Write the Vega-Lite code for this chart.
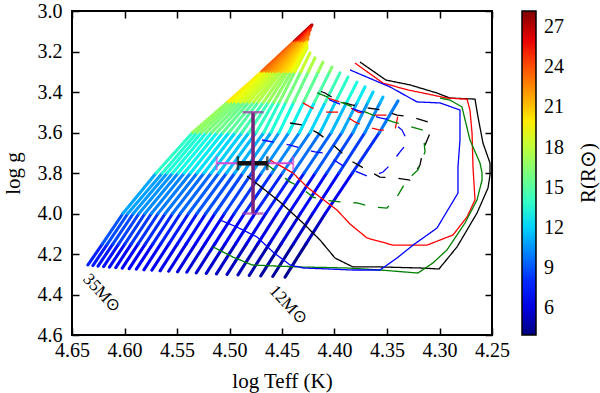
{
"$schema": "https://vega.github.io/schema/vega-lite/v6.json",
"width": 420, "height": 324,
"autosize": {"type": "none"},
"padding": {"left": 72, "top": 11, "right": 108, "bottom": 58},
"config": {
 "font": "Liberation Serif",
 "view": {"stroke": "black", "strokeWidth": 2},
 "axis": {"grid": false, "domain": false, "tickColor": "black", "tickWidth": 1.5, "tickSize": -7, "labelFont": "Liberation Serif", "labelFontSize": 20, "labelColor": "black", "labelOverlap": false, "labelFlush": false, "titleFont": "Liberation Serif", "titleFontSize": 21, "titleFontWeight": "normal", "titleColor": "black"}
},
"datasets": {
"tracks": [
{"t":0,"x":4.6348,"y":4.254,"r":7.76},{"t":0,"x":4.6210,"y":4.15,"r":8.99},{"t":0,"x":4.6015,"y":4.00,"r":10.99},{"t":0,"x":4.5698,"y":3.80,"r":13.84},{"t":0,"x":4.5351,"y":3.60,"r":16.93},{"t":0,"x":4.5018,"y":3.45,"r":20.12},{"t":0,"x":4.4691,"y":3.30,"r":23.90},{"t":0,"x":4.4382,"y":3.15,"r":27.31},{"t":0,"x":4.4214,"y":3.069},
{"t":1,"x":4.6301,"y":4.257,"r":7.64},{"t":1,"x":4.6162,"y":4.15,"r":8.86},{"t":1,"x":4.5968,"y":4.00,"r":10.83},{"t":1,"x":4.5639,"y":3.80,"r":13.64},{"t":1,"x":4.5310,"y":3.60,"r":16.69},{"t":1,"x":4.5000,"y":3.45,"r":19.83},{"t":1,"x":4.4691,"y":3.30,"r":23.56},{"t":1,"x":4.4381,"y":3.15,"r":26.84},{"t":1,"x":4.4224,"y":3.074},
{"t":2,"x":4.6252,"y":4.260,"r":7.52},{"t":2,"x":4.6110,"y":4.15,"r":8.73},{"t":2,"x":4.5916,"y":4.00,"r":10.67},{"t":2,"x":4.5592,"y":3.80,"r":13.44},{"t":2,"x":4.5267,"y":3.60,"r":16.44},{"t":2,"x":4.4966,"y":3.45,"r":19.54},{"t":2,"x":4.4666,"y":3.30,"r":23.21},{"t":2,"x":4.4366,"y":3.15,"r":26.36},{"t":2,"x":4.4224,"y":3.079},
{"t":3,"x":4.6199,"y":4.262,"r":7.39},{"t":3,"x":4.6055,"y":4.15,"r":8.59},{"t":3,"x":4.5862,"y":4.00,"r":10.51},{"t":3,"x":4.5541,"y":3.80,"r":13.23},{"t":3,"x":4.5220,"y":3.60,"r":16.19},{"t":3,"x":4.4933,"y":3.45,"r":19.24},{"t":3,"x":4.4646,"y":3.30,"r":22.85},{"t":3,"x":4.4360,"y":3.15,"r":25.88},{"t":3,"x":4.4233,"y":3.084},
{"t":4,"x":4.6143,"y":4.265,"r":7.26},{"t":4,"x":4.5996,"y":4.15,"r":8.46},{"t":4,"x":4.5805,"y":4.00,"r":10.34},{"t":4,"x":4.5488,"y":3.80,"r":13.03},{"t":4,"x":4.5170,"y":3.60,"r":15.93},{"t":4,"x":4.4895,"y":3.45,"r":18.94},{"t":4,"x":4.4620,"y":3.30,"r":22.49},{"t":4,"x":4.4346,"y":3.15,"r":25.41},{"t":4,"x":4.4233,"y":3.089},
{"t":5,"x":4.6083,"y":4.267,"r":7.13},{"t":5,"x":4.5935,"y":4.15,"r":8.32},{"t":5,"x":4.5744,"y":4.00,"r":10.17},{"t":5,"x":4.5431,"y":3.80,"r":12.81},{"t":5,"x":4.5118,"y":3.60,"r":15.67},{"t":5,"x":4.4856,"y":3.45,"r":18.63},{"t":5,"x":4.4594,"y":3.30,"r":22.13},{"t":5,"x":4.4332,"y":3.15,"r":24.93},{"t":5,"x":4.4233,"y":3.094},
{"t":6,"x":4.6021,"y":4.270,"r":7.00},{"t":6,"x":4.5870,"y":4.15,"r":8.18},{"t":6,"x":4.5680,"y":4.00,"r":10.00},{"t":6,"x":4.5371,"y":3.80,"r":12.60},{"t":6,"x":4.5063,"y":3.60,"r":15.41},{"t":6,"x":4.4815,"y":3.45,"r":18.31},{"t":6,"x":4.4567,"y":3.30,"r":21.76},{"t":6,"x":4.4320,"y":3.15,"r":24.36},{"t":6,"x":4.4243,"y":3.104},
{"t":7,"x":4.5955,"y":4.272,"r":6.87},{"t":7,"x":4.5801,"y":4.15,"r":8.04},{"t":7,"x":4.5612,"y":4.00,"r":9.83},{"t":7,"x":4.5308,"y":3.80,"r":12.38},{"t":7,"x":4.5005,"y":3.60,"r":15.14},{"t":7,"x":4.4770,"y":3.45,"r":18.00},{"t":7,"x":4.4535,"y":3.30,"r":21.38},{"t":7,"x":4.4300,"y":3.15,"r":23.81},{"t":7,"x":4.4243,"y":3.114},
{"t":8,"x":4.5887,"y":4.275,"r":6.74},{"t":8,"x":4.5730,"y":4.15,"r":7.89},{"t":8,"x":4.5542,"y":4.00,"r":9.65},{"t":8,"x":4.5243,"y":3.80,"r":12.16},{"t":8,"x":4.4945,"y":3.60,"r":14.87},{"t":8,"x":4.4727,"y":3.45,"r":17.67},{"t":8,"x":4.4509,"y":3.30,"r":20.99},{"t":8,"x":4.4291,"y":3.15,"r":23.25},{"t":8,"x":4.4252,"y":3.124},
{"t":9,"x":4.5815,"y":4.278,"r":6.60},{"t":9,"x":4.5655,"y":4.15,"r":7.75},{"t":9,"x":4.5468,"y":4.00,"r":9.47},{"t":9,"x":4.5174,"y":3.80,"r":11.93},{"t":9,"x":4.4881,"y":3.60,"r":14.59},{"t":9,"x":4.4677,"y":3.45,"r":17.34},{"t":9,"x":4.4473,"y":3.30,"r":20.60},{"t":9,"x":4.4268,"y":3.15,"r":22.62},{"t":9,"x":4.4252,"y":3.138},
{"t":10,"x":4.5739,"y":4.280,"r":6.46},{"t":10,"x":4.5577,"y":4.15,"r":7.60},{"t":10,"x":4.5390,"y":4.00,"r":9.29},{"t":10,"x":4.5102,"y":3.80,"r":11.70},{"t":10,"x":4.4814,"y":3.60,"r":14.31},{"t":10,"x":4.4629,"y":3.45,"r":17.00},{"t":10,"x":4.4444,"y":3.30,"r":20.17},{"t":10,"x":4.4262,"y":3.153},
{"t":11,"x":4.5661,"y":4.283,"r":6.33},{"t":11,"x":4.5496,"y":4.15,"r":7.44},{"t":11,"x":4.5310,"y":4.00,"r":9.10},{"t":11,"x":4.5028,"y":3.80,"r":11.46},{"t":11,"x":4.4746,"y":3.60,"r":14.02},{"t":11,"x":4.4578,"y":3.45,"r":16.66},{"t":11,"x":4.4410,"y":3.30,"r":19.60},{"t":11,"x":4.4262,"y":3.168},
{"t":12,"x":4.5579,"y":4.285,"r":6.18},{"t":12,"x":4.5412,"y":4.15,"r":7.29},{"t":12,"x":4.5226,"y":4.00,"r":8.91},{"t":12,"x":4.4950,"y":3.80,"r":11.22},{"t":12,"x":4.4673,"y":3.60,"r":13.72},{"t":12,"x":4.4525,"y":3.45,"r":16.31},{"t":12,"x":4.4378,"y":3.30,"r":19.02},{"t":12,"x":4.4262,"y":3.183},
{"t":13,"x":4.5495,"y":4.288,"r":6.04},{"t":13,"x":4.5324,"y":4.15,"r":7.13},{"t":13,"x":4.5139,"y":4.00,"r":8.71},{"t":13,"x":4.4872,"y":3.80,"r":10.97},{"t":13,"x":4.4605,"y":3.60,"r":13.42},{"t":13,"x":4.4463,"y":3.45,"r":15.95},{"t":13,"x":4.4321,"y":3.30,"r":18.34},{"t":13,"x":4.4233,"y":3.207},
{"t":14,"x":4.5407,"y":4.290,"r":5.89},{"t":14,"x":4.5234,"y":4.15,"r":6.96},{"t":14,"x":4.5048,"y":4.00,"r":8.51},{"t":14,"x":4.4788,"y":3.80,"r":10.72},{"t":14,"x":4.4527,"y":3.60,"r":13.11},{"t":14,"x":4.4388,"y":3.45,"r":15.58},{"t":14,"x":4.4249,"y":3.30,"r":17.66},{"t":14,"x":4.4186,"y":3.232},
{"t":15,"x":4.5316,"y":4.293,"r":5.74},{"t":15,"x":4.5140,"y":4.15,"r":6.79},{"t":15,"x":4.4955,"y":4.00,"r":8.31},{"t":15,"x":4.4695,"y":3.80,"r":10.46},{"t":15,"x":4.4434,"y":3.60,"r":12.80},{"t":15,"x":4.4294,"y":3.45,"r":15.21},{"t":15,"x":4.4154,"y":3.30,"r":17.04},{"t":15,"x":4.4110,"y":3.252},
{"t":16,"x":4.5221,"y":4.296,"r":5.59},{"t":16,"x":4.5042,"y":4.15,"r":6.62},{"t":16,"x":4.4858,"y":4.00,"r":8.10},{"t":16,"x":4.4596,"y":3.80,"r":10.20},{"t":16,"x":4.4333,"y":3.60,"r":12.47},{"t":16,"x":4.4190,"y":3.45,"r":14.82},{"t":16,"x":4.4046,"y":3.30,"r":16.38},{"t":16,"x":4.4024,"y":3.277},
{"t":17,"x":4.5124,"y":4.298,"r":5.43},{"t":17,"x":4.4942,"y":4.15,"r":6.45},{"t":17,"x":4.4758,"y":4.00,"r":7.88},{"t":17,"x":4.4495,"y":3.80,"r":9.93},{"t":17,"x":4.4232,"y":3.60,"r":12.14},{"t":17,"x":4.4087,"y":3.45,"r":14.38},{"t":17,"x":4.3948,"y":3.306},
{"t":18,"x":4.5023,"y":4.301,"r":5.27},{"t":18,"x":4.4838,"y":4.15,"r":6.26},{"t":18,"x":4.4654,"y":4.00,"r":7.66},{"t":18,"x":4.4395,"y":3.80,"r":9.65},{"t":18,"x":4.4136,"y":3.60,"r":11.80},{"t":18,"x":4.3991,"y":3.45,"r":13.81},{"t":18,"x":4.3871,"y":3.326},
{"t":19,"x":4.4919,"y":4.303,"r":5.10},{"t":19,"x":4.4731,"y":4.15,"r":6.08},{"t":19,"x":4.4547,"y":4.00,"r":7.43},{"t":19,"x":4.4289,"y":3.80,"r":9.36},{"t":19,"x":4.4030,"y":3.60,"r":11.45},{"t":19,"x":4.3883,"y":3.45,"r":13.21},{"t":19,"x":4.3786,"y":3.351},
{"t":20,"x":4.4812,"y":4.306,"r":4.93},{"t":20,"x":4.4621,"y":4.15,"r":5.88},{"t":20,"x":4.4437,"y":4.00,"r":7.20},{"t":20,"x":4.4183,"y":3.80,"r":9.06},{"t":20,"x":4.3929,"y":3.60,"r":11.08},{"t":20,"x":4.3782,"y":3.45,"r":12.61},{"t":20,"x":4.3710,"y":3.375},
{"t":21,"x":4.4702,"y":4.308,"r":4.76},{"t":21,"x":4.4508,"y":4.15,"r":5.68},{"t":21,"x":4.4324,"y":4.00,"r":6.95},{"t":21,"x":4.4074,"y":3.80,"r":8.75},{"t":21,"x":4.3824,"y":3.60,"r":10.71},{"t":21,"x":4.3681,"y":3.45,"r":12.01},{"t":21,"x":4.3633,"y":3.400},
{"t":22,"x":4.4588,"y":4.311,"r":4.58},{"t":22,"x":4.4391,"y":4.15,"r":5.48},{"t":22,"x":4.4208,"y":4.00,"r":6.70},{"t":22,"x":4.3958,"y":3.80,"r":8.44},{"t":22,"x":4.3710,"y":3.60,"r":10.32},{"t":22,"x":4.3563,"y":3.45,"r":11.41},{"t":22,"x":4.3538,"y":3.425},
{"t":23,"x":4.4471,"y":4.314,"r":4.39},{"t":23,"x":4.4271,"y":4.15,"r":5.26},{"t":23,"x":4.4088,"y":4.00,"r":6.44},{"t":23,"x":4.3830,"y":3.80,"r":8.10},{"t":23,"x":4.3572,"y":3.60,"r":9.94},{"t":23,"x":4.3395,"y":3.444}
],
"contours": [
{"m":"A","l":"outer","o":1,"x":4.4833,"y":3.815},{"m":"A","l":"outer","o":2,"x":4.4662,"y":3.884},{"m":"A","l":"outer","o":3,"x":4.4519,"y":3.943},{"m":"A","l":"outer","o":4,"x":4.4300,"y":4.047},{"m":"A","l":"outer","o":5,"x":4.4138,"y":4.131},{"m":"A","l":"outer","o":6,"x":4.3995,"y":4.220},{"m":"A","l":"outer","o":7,"x":4.3824,"y":4.264},{"m":"A","l":"outer","o":8,"x":4.3567,"y":4.264},{"m":"A","l":"outer","o":9,"x":4.3186,"y":4.269},{"m":"A","l":"outer","o":10,"x":4.3005,"y":4.274},{"m":"A","l":"outer","o":11,"x":4.2833,"y":4.165},{"m":"A","l":"outer","o":12,"x":4.2643,"y":3.998},{"m":"A","l":"outer","o":13,"x":4.2538,"y":3.874},{"m":"A","l":"outer","o":14,"x":4.2519,"y":3.810},{"m":"A","l":"outer","o":15,"x":4.2519,"y":3.751},{"m":"A","l":"outer","o":16,"x":4.2586,"y":3.652},{"m":"A","l":"outer","o":17,"x":4.2633,"y":3.524},{"m":"A","l":"outer","o":18,"x":4.2662,"y":3.435},{"m":"A","l":"outer","o":19,"x":4.2900,"y":3.430},{"m":"A","l":"outer","o":20,"x":4.3024,"y":3.405},{"m":"A","l":"outer","o":21,"x":4.3281,"y":3.365},{"m":"A","l":"outer","o":22,"x":4.3510,"y":3.341},{"m":"A","l":"outer","o":23,"x":4.3757,"y":3.252},
{"m":"B","l":"outer","o":1,"x":4.4614,"y":3.736},{"m":"B","l":"outer","o":2,"x":4.4395,"y":3.800},{"m":"B","l":"outer","o":3,"x":4.4262,"y":3.869},{"m":"B","l":"outer","o":4,"x":4.4138,"y":3.919},{"m":"B","l":"outer","o":5,"x":4.3976,"y":3.983},{"m":"B","l":"outer","o":6,"x":4.3852,"y":4.052},{"m":"B","l":"outer","o":7,"x":4.3690,"y":4.121},{"m":"B","l":"outer","o":8,"x":4.3443,"y":4.156},{"m":"B","l":"outer","o":9,"x":4.3119,"y":4.156},{"m":"B","l":"outer","o":10,"x":4.2871,"y":4.106},{"m":"B","l":"outer","o":11,"x":4.2738,"y":4.017},{"m":"B","l":"outer","o":12,"x":4.2662,"y":3.933},{"m":"B","l":"outer","o":13,"x":4.2681,"y":3.770},{"m":"B","l":"outer","o":14,"x":4.2690,"y":3.603},{"m":"B","l":"outer","o":15,"x":4.2710,"y":3.489},{"m":"B","l":"outer","o":16,"x":4.2738,"y":3.435},{"m":"B","l":"outer","o":17,"x":4.2929,"y":3.430},{"m":"B","l":"outer","o":18,"x":4.3157,"y":3.405},{"m":"B","l":"outer","o":19,"x":4.3300,"y":3.390},{"m":"B","l":"outer","o":20,"x":4.3538,"y":3.356},{"m":"B","l":"outer","o":21,"x":4.3805,"y":3.257},
{"m":"C","l":"outer","o":1,"x":4.5157,"y":4.165},{"m":"C","l":"outer","o":2,"x":4.4967,"y":4.215},{"m":"C","l":"outer","o":3,"x":4.4786,"y":4.254},{"m":"C","l":"outer","o":4,"x":4.4586,"y":4.259},{"m":"C","l":"outer","o":5,"x":4.4329,"y":4.264},{"m":"C","l":"outer","o":6,"x":4.3881,"y":4.269},{"m":"C","l":"outer","o":7,"x":4.3567,"y":4.279},{"m":"C","l":"outer","o":8,"x":4.3205,"y":4.294},{"m":"C","l":"outer","o":9,"x":4.3062,"y":4.244},{"m":"C","l":"outer","o":10,"x":4.2929,"y":4.180},{"m":"C","l":"outer","o":11,"x":4.2757,"y":4.047},{"m":"C","l":"outer","o":12,"x":4.2643,"y":3.933},{"m":"C","l":"outer","o":13,"x":4.2595,"y":3.835},{"m":"C","l":"outer","o":14,"x":4.2595,"y":3.800},{"m":"C","l":"outer","o":15,"x":4.2614,"y":3.751},{"m":"C","l":"outer","o":16,"x":4.2710,"y":3.637},{"m":"C","l":"outer","o":17,"x":4.2786,"y":3.474},{"m":"C","l":"outer","o":18,"x":4.2900,"y":3.440},{"m":"C","l":"outer","o":19,"x":4.2995,"y":3.430},
{"m":"D","l":"outer","o":1,"x":4.5091,"y":4.032},{"m":"D","l":"outer","o":2,"x":4.4929,"y":4.067},{"m":"D","l":"outer","o":3,"x":4.4738,"y":4.116},{"m":"D","l":"outer","o":4,"x":4.4586,"y":4.190},{"m":"D","l":"outer","o":5,"x":4.4424,"y":4.254},{"m":"D","l":"outer","o":6,"x":4.4300,"y":4.269},{"m":"D","l":"outer","o":7,"x":4.3824,"y":4.279},{"m":"D","l":"outer","o":8,"x":4.3567,"y":4.279},{"m":"D","l":"outer","o":9,"x":4.3405,"y":4.220},{"m":"D","l":"outer","o":10,"x":4.3252,"y":4.156},{"m":"D","l":"outer","o":11,"x":4.3024,"y":4.072},{"m":"D","l":"outer","o":12,"x":4.2824,"y":3.899},{"m":"D","l":"outer","o":13,"x":4.2824,"y":3.770},{"m":"D","l":"outer","o":14,"x":4.2805,"y":3.637},{"m":"D","l":"outer","o":15,"x":4.2805,"y":3.489},{"m":"D","l":"outer","o":16,"x":4.2995,"y":3.454},{"m":"D","l":"outer","o":17,"x":4.3214,"y":3.449},{"m":"D","l":"outer","o":18,"x":4.3471,"y":3.375},{"m":"D","l":"outer","o":19,"x":4.3852,"y":3.291},
{"m":"A","l":"inner","o":1,"x":4.4424,"y":3.553},{"m":"A","l":"inner","o":2,"x":4.4300,"y":3.563},{"m":"A","l":"inner","o":3,"x":4.4157,"y":3.603},{"m":"A","l":"inner","o":4,"x":4.4043,"y":3.647},{"m":"A","l":"inner","o":5,"x":4.3929,"y":3.701},{"m":"A","l":"inner","o":6,"x":4.3824,"y":3.746},{"m":"A","l":"inner","o":7,"x":4.3690,"y":3.785},{"m":"A","l":"inner","o":8,"x":4.3567,"y":3.820},{"m":"A","l":"inner","o":9,"x":4.3405,"y":3.825},{"m":"A","l":"inner","o":10,"x":4.3281,"y":3.835},{"m":"A","l":"inner","o":11,"x":4.3186,"y":3.761},{"m":"A","l":"inner","o":12,"x":4.3157,"y":3.686},{"m":"A","l":"inner","o":13,"x":4.3090,"y":3.603},{"m":"A","l":"inner","o":14,"x":4.3110,"y":3.548},{"m":"A","l":"inner","o":15,"x":4.3262,"y":3.524},{"m":"A","l":"inner","o":16,"x":4.3405,"y":3.514},{"m":"A","l":"inner","o":17,"x":4.3548,"y":3.489},{"m":"A","l":"inner","o":18,"x":4.3681,"y":3.479},{"m":"A","l":"inner","o":19,"x":4.3833,"y":3.464},{"m":"A","l":"inner","o":20,"x":4.3948,"y":3.449},{"m":"A","l":"inner","o":21,"x":4.4090,"y":3.405},{"m":"A","l":"inner","o":22,"x":4.4167,"y":3.390},
{"m":"B","l":"inner","o":1,"x":4.4300,"y":3.454},{"m":"B","l":"inner","o":2,"x":4.4214,"y":3.479},{"m":"B","l":"inner","o":3,"x":4.4071,"y":3.499},{"m":"B","l":"inner","o":4,"x":4.3948,"y":3.499},{"m":"B","l":"inner","o":5,"x":4.3805,"y":3.548},{"m":"B","l":"inner","o":6,"x":4.3690,"y":3.573},{"m":"B","l":"inner","o":7,"x":4.3567,"y":3.588},{"m":"B","l":"inner","o":8,"x":4.3424,"y":3.588},{"m":"B","l":"inner","o":9,"x":4.3395,"y":3.514},{"m":"B","l":"inner","o":10,"x":4.3490,"y":3.514},{"m":"B","l":"inner","o":11,"x":4.3643,"y":3.514},{"m":"B","l":"inner","o":12,"x":4.3776,"y":3.499},{"m":"B","l":"inner","o":13,"x":4.3948,"y":3.449},{"m":"B","l":"inner","o":14,"x":4.4062,"y":3.430},
{"m":"C","l":"inner","o":1,"x":4.4662,"y":3.751},{"m":"C","l":"inner","o":2,"x":4.4424,"y":3.844},{"m":"C","l":"inner","o":3,"x":4.4329,"y":3.869},{"m":"C","l":"inner","o":4,"x":4.4205,"y":3.919},{"m":"C","l":"inner","o":5,"x":4.4110,"y":3.933},{"m":"C","l":"inner","o":6,"x":4.3929,"y":3.943},{"m":"C","l":"inner","o":7,"x":4.3786,"y":3.948},{"m":"C","l":"inner","o":8,"x":4.3633,"y":3.968},{"m":"C","l":"inner","o":9,"x":4.3500,"y":3.973},{"m":"C","l":"inner","o":10,"x":4.3395,"y":3.909},{"m":"C","l":"inner","o":11,"x":4.3310,"y":3.835},{"m":"C","l":"inner","o":12,"x":4.3205,"y":3.785},{"m":"C","l":"inner","o":13,"x":4.3138,"y":3.696},{"m":"C","l":"inner","o":14,"x":4.3157,"y":3.588},{"m":"C","l":"inner","o":15,"x":4.3329,"y":3.563},{"m":"C","l":"inner","o":16,"x":4.3443,"y":3.548},{"m":"C","l":"inner","o":17,"x":4.3633,"y":3.514},{"m":"C","l":"inner","o":18,"x":4.3852,"y":3.469},{"m":"C","l":"inner","o":19,"x":4.4043,"y":3.430},{"m":"C","l":"inner","o":20,"x":4.4186,"y":3.400},
{"m":"D","l":"inner","o":1,"x":4.4690,"y":3.637},{"m":"D","l":"inner","o":2,"x":4.4424,"y":3.662},{"m":"D","l":"inner","o":3,"x":4.4186,"y":3.696},{"m":"D","l":"inner","o":4,"x":4.4110,"y":3.701},{"m":"D","l":"inner","o":5,"x":4.3929,"y":3.761},{"m":"D","l":"inner","o":6,"x":4.3833,"y":3.785},{"m":"D","l":"inner","o":7,"x":4.3662,"y":3.820},{"m":"D","l":"inner","o":8,"x":4.3538,"y":3.795},{"m":"D","l":"inner","o":9,"x":4.3471,"y":3.761},{"m":"D","l":"inner","o":10,"x":4.3376,"y":3.696},{"m":"D","l":"inner","o":11,"x":4.3300,"y":3.647},{"m":"D","l":"inner","o":12,"x":4.3357,"y":3.588},{"m":"D","l":"inner","o":13,"x":4.3471,"y":3.538},{"m":"D","l":"inner","o":14,"x":4.3567,"y":3.528},{"m":"D","l":"inner","o":15,"x":4.3729,"y":3.499},{"m":"D","l":"inner","o":16,"x":4.3852,"y":3.479},{"m":"D","l":"inner","o":17,"x":4.4043,"y":3.440},{"m":"D","l":"inner","o":18,"x":4.4157,"y":3.400}
],
"errors": [
{"bar":"Teff","lo":4.5122,"hi":4.4393,"y":3.752},
{"bar":"Teff core","lo":4.492,"hi":4.464,"y":3.752},
{"bar":"logg","x":4.4776,"lo":3.50,"hi":4.00}
],
"labels": [
{"label":"35M⊙","x":4.6217,"y":4.394},
{"label":"12M⊙","x":4.4443,"y":4.452}
]
},
"layer": [
{
 "data": {"name": "tracks"},
 "transform": [
  {"window": [{"op": "lead", "field": "x", "as": "x2"}, {"op": "lead", "field": "y", "as": "y2"}], "groupby": ["t"], "sort": [{"field": "y", "order": "descending"}]},
  {"filter": "datum.x2 != null"}
 ],
 "mark": {"type": "rule", "strokeWidth": 3.1, "strokeCap": "round"},
 "encoding": {
  "x": {"field": "x", "type": "quantitative", "scale": {"domain": [4.25, 4.65], "reverse": true, "nice": false, "zero": false},
        "axis": {"title": "log Teff (K)", "values": [4.25,4.3,4.35,4.4,4.45,4.5,4.55,4.6,4.65], "format": ".2f", "labelPadding": 12, "titlePadding": 10}},
  "y": {"field": "y", "type": "quantitative", "scale": {"domain": [3.0, 4.6], "reverse": true, "nice": false, "zero": false},
        "axis": {"title": "log g", "values": [3.0,3.2,3.4,3.6,3.8,4.0,4.2,4.4,4.6], "format": ".1f", "labelPadding": 17, "titlePadding": 14}},
  "x2": {"field": "x2"},
  "y2": {"field": "y2"},
  "color": {"field": "r", "type": "quantitative",
   "scale": {"domain": [4.0, 6.662, 7.025, 12.228, 12.47, 13.075, 19.488, 19.73, 19.972, 25.538, 26.022, 28.2],
             "range": ["#000080", "#0000ff", "#0000ff", "#00dbff", "#00e5f7", "#15ffe2", "#eeff08", "#f7f500", "#ffec00", "#ff1300", "#e80000", "#800000"],
             "interpolate": "rgb", "nice": false, "zero": false, "clamp": true},
   "legend": {"title": "R(R⊙)", "type": "gradient", "direction": "vertical", "orient": "right", "offset": 29, "padding": 0,
              "gradientLength": 324, "gradientThickness": 14, "gradientStrokeColor": "black", "gradientStrokeWidth": 1.5,
              "values": [6, 9, 12, 15, 18, 21, 24, 27], "labelFont": "Liberation Serif", "labelFontSize": 20, "labelColor": "black",
              "labelOffset": 8, "labelOverlap": false,
              "titleOrient": "right", "titleFont": "Liberation Serif", "titleFontSize": 21, "titleFontWeight": "normal",
              "titleColor": "black", "titlePadding": 14, "titleAnchor": "middle",
              "encode": {"title": {"update": {"angle": {"value": 270}, "baseline": {"value": "top"}}}}}}
 }
},
{
 "data": {"name": "contours"},
 "mark": {"type": "line", "strokeWidth": 1.3},
 "encoding": {
  "x": {"field": "x", "type": "quantitative", "axis": null},
  "y": {"field": "y", "type": "quantitative", "axis": null},
  "order": {"field": "o", "type": "quantitative"},
  "stroke": {"field": "m", "type": "nominal", "scale": {"domain": ["A", "B", "C", "D"], "range": ["#000000", "#ff0000", "#008000", "#0000ff"]}, "legend": null},
  "strokeDash": {"field": "l", "type": "nominal", "scale": {"domain": ["outer", "inner"], "range": [[1, 0], [12, 13]]}, "legend": null}
 }
},
{
 "data": {"name": "errors"},
 "transform": [{"filter": "datum.bar == 'Teff'"}],
 "mark": {"type": "rule", "color": "#d24bd2", "strokeWidth": 2},
 "encoding": {
  "x": {"field": "lo", "type": "quantitative", "axis": null},
  "x2": {"field": "hi"},
  "y": {"field": "y", "type": "quantitative", "axis": null}
 }
},
{
 "data": {"name": "errors"},
 "transform": [{"filter": "datum.bar == 'Teff'"}, {"fold": ["lo", "hi"], "as": ["end", "v"]}],
 "mark": {"type": "tick", "orient": "vertical", "color": "#d24bd2", "size": 14, "thickness": 2},
 "encoding": {
  "x": {"field": "v", "type": "quantitative", "axis": null},
  "y": {"field": "y", "type": "quantitative", "axis": null}
 }
},
{
 "data": {"name": "errors"},
 "transform": [{"filter": "datum.bar == 'Teff core'"}],
 "mark": {"type": "rule", "color": "#111111", "strokeWidth": 4.5},
 "encoding": {
  "x": {"field": "lo", "type": "quantitative", "axis": null},
  "x2": {"field": "hi"},
  "y": {"field": "y", "type": "quantitative", "axis": null}
 }
},
{
 "data": {"name": "errors"},
 "transform": [{"filter": "datum.bar == 'Teff core'"}, {"fold": ["lo", "hi"], "as": ["end", "v"]}],
 "mark": {"type": "tick", "orient": "vertical", "color": "#111111", "size": 14, "thickness": 2.5},
 "encoding": {
  "x": {"field": "v", "type": "quantitative", "axis": null},
  "y": {"field": "y", "type": "quantitative", "axis": null}
 }
},
{
 "data": {"name": "errors"},
 "transform": [{"filter": "datum.bar == 'logg'"}],
 "mark": {"type": "rule", "color": "#7a1f7a", "strokeWidth": 3.5},
 "encoding": {
  "x": {"field": "x", "type": "quantitative", "axis": null},
  "y": {"field": "lo", "type": "quantitative", "axis": null},
  "y2": {"field": "hi"}
 }
},
{
 "data": {"name": "errors"},
 "transform": [{"filter": "datum.bar == 'logg'"}, {"fold": ["lo", "hi"], "as": ["end", "v"]}],
 "mark": {"type": "tick", "orient": "horizontal", "color": "#a535a5", "size": 21, "thickness": 2.5},
 "encoding": {
  "x": {"field": "x", "type": "quantitative", "axis": null},
  "y": {"field": "v", "type": "quantitative", "axis": null}
 }
},
{
 "data": {"name": "labels"},
 "mark": {"type": "text", "angle": 47, "font": "Liberation Serif", "fontSize": 17, "color": "black", "align": "center", "baseline": "middle"},
 "encoding": {
  "x": {"field": "x", "type": "quantitative", "axis": {"orient": "top", "labels": false, "title": null, "values": [4.25,4.3,4.35,4.4,4.45,4.5,4.55,4.6,4.65]}},
  "y": {"field": "y", "type": "quantitative", "axis": {"orient": "right", "labels": false, "title": null, "values": [3.0,3.2,3.4,3.6,3.8,4.0,4.2,4.4,4.6]}},
  "text": {"field": "label"}
 }
}
],
"resolve": {"axis": {"x": "independent", "y": "independent"}}
}
